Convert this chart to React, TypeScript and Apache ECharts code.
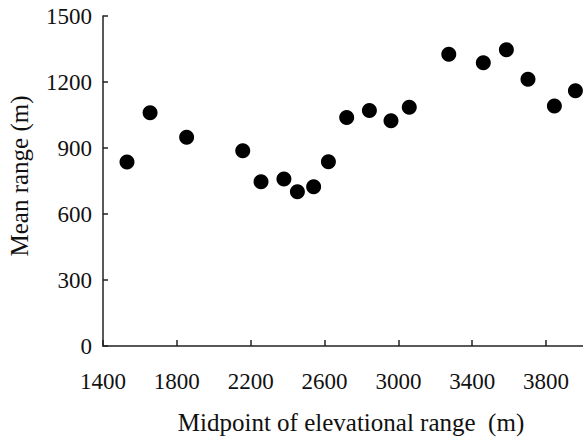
import React, { useEffect, useRef } from "react";
import * as echarts from "echarts";

const elevation = [1530, 1655, 1853, 2157, 2256, 2380, 2453, 2541, 2621, 2720, 2843, 2960, 3059, 3273, 3460, 3585, 3702, 3845, 3959];
const meanRange = [836, 1060, 949, 888, 747, 759, 701, 724, 838, 1039, 1070, 1024, 1085, 1326, 1288, 1347, 1212, 1091, 1160];

const xAxisName = "Midpoint of elevational range  (m)";
const yAxisName = "Mean range (m)";

export default function App() {
  const ref = useRef<HTMLDivElement>(null);
  useEffect(() => {
    if (!ref.current) return;
    const chart = echarts.init(ref.current, null, { renderer: "svg" });
    const font = "'Liberation Serif', 'DejaVu Serif', serif";
    const axisColor = "#222";
    chart.setOption({
      animation: false,
      backgroundColor: "#fff",
      grid: { left: 103, right: 0, top: 16, bottom: 94, containLabel: false, outerBoundsMode: "none" },
      xAxis: {
        type: "value",
        min: 1400,
        max: 4000,
        interval: 400,
        name: xAxisName,
        nameLocation: "middle",
        nameGap: 64,
        nameTextStyle: { fontFamily: font, fontSize: 25, color: "#111", padding: [0, 0, 0, 16] },
        axisLine: { show: true, lineStyle: { color: axisColor, width: 1.5 } },
        axisTick: { show: true, inside: true, length: 6, lineStyle: { color: axisColor, width: 1.5 } },
        axisLabel: { margin: 24, fontFamily: font, fontSize: 23, color: "#111", showMaxLabel: false, formatter: (v: number) => String(v) },
        splitLine: { show: false },
      },
      yAxis: {
        type: "value",
        min: 0,
        max: 1500,
        interval: 300,
        name: yAxisName,
        nameLocation: "middle",
        nameGap: 71,
        nameTextStyle: { fontFamily: font, fontSize: 25, color: "#111", padding: [0, 0, 0, 10] },
        axisLine: { show: true, lineStyle: { color: axisColor, width: 1.5 } },
        axisTick: { show: true, inside: true, length: 5, lineStyle: { color: axisColor, width: 1.5 } },
        axisLabel: { margin: 11, fontFamily: font, fontSize: 23, color: "#111", formatter: (v: number) => String(v) },
        splitLine: { show: false },
      },
      series: [
        {
          type: "scatter",
          data: elevation.map((x, i) => [x, meanRange[i]]),
          symbol: "circle",
          symbolSize: 15,
          itemStyle: { color: "#000", opacity: 1 },
          clip: false,
        },
      ],
    });
    return () => chart.dispose();
  }, []);
  return <div ref={ref} style={{ position: "fixed", left: 0, top: 0, width: 583, height: 440 }} />;
}
